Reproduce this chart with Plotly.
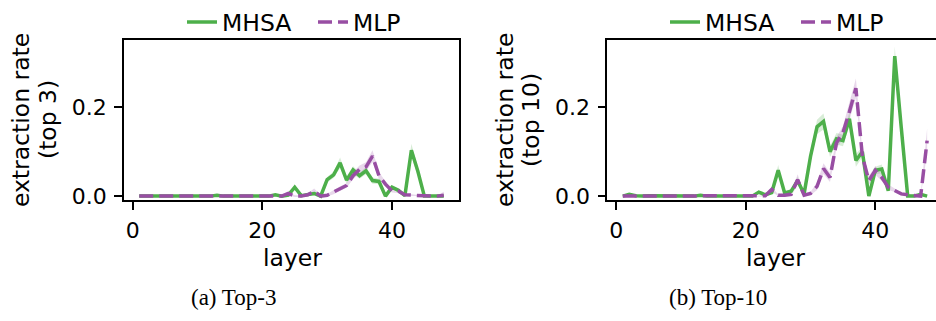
import plotly.graph_objects as go

layers = list(range(1, 49))

# (a) Top-3
mhsa_top3 = [0.0, 0.0, 0.0, 0.0, 0.0, 0.0, 0.0, 0.0, 0.0, 0.0, 0.0, 0.0,
             0.002, 0.0, 0.0, 0.0, 0.0, 0.0, 0.0, 0.0, 0.0, 0.003, 0.0, 0.002,
             0.020, 0.001, 0.003, 0.006, 0.0, 0.037, 0.048, 0.075, 0.036, 0.059,
             0.046, 0.057, 0.035, 0.033, 0.0, 0.020, 0.013, 0.001, 0.103, 0.056,
             0.0, 0.0, 0.0, 0.0]
mhsa_top3_ci = [0.001] * 24 + [0.006, 0.002, 0.003, 0.004, 0.002, 0.006, 0.007, 0.012,
                               0.008, 0.008, 0.007, 0.008, 0.007, 0.006, 0.002, 0.005,
                               0.004, 0.002, 0.015, 0.009, 0.001, 0.001, 0.001, 0.001]
mlp_top3 = [0.0] * 23 + [0.006, 0.0, 0.0, 0.003, 0.011, 0.0, 0.002, 0.009, 0.017,
                         0.024, 0.046, 0.060, 0.066, 0.090, 0.046, 0.027, 0.012,
                         0.011, 0.003, 0.002, 0.001, 0.0, 0.0, 0.0, 0.002]
mlp_top3_ci = [0.001] * 23 + [0.004, 0.002, 0.002, 0.003, 0.006, 0.002, 0.003, 0.005, 0.005,
                              0.005, 0.008, 0.009, 0.010, 0.013, 0.008, 0.006, 0.004,
                              0.004, 0.002, 0.002, 0.001, 0.001, 0.001, 0.002, 0.008]

# (b) Top-10
mhsa_top10 = [0.0, 0.004, 0.001, 0.0, 0.001, 0.001, 0.0, 0.0, 0.0, 0.0, 0.0, 0.0,
              0.002, 0.0, 0.0, 0.0, 0.0, 0.0, 0.0, 0.0, 0.0, 0.009, 0.003, 0.008,
              0.058, 0.007, 0.011, 0.035, 0.005, 0.090, 0.156, 0.168, 0.100, 0.129,
              0.125, 0.174, 0.080, 0.100, 0.0, 0.058, 0.061, 0.012, 0.315, 0.155,
              0.0, 0.0, 0.004, 0.0]
mhsa_top10_ci = [0.002] * 21 + [0.004, 0.003, 0.004, 0.012, 0.004, 0.005, 0.008,
                                0.003, 0.012, 0.016, 0.018, 0.012, 0.013, 0.013, 0.015,
                                0.014, 0.012, 0.002, 0.008, 0.010, 0.004, 0.022, 0.012,
                                0.002, 0.002, 0.003, 0.002]
mlp_top10 = [0.0] * 22 + [0.001, 0.015, 0.002, 0.002, 0.004, 0.037, 0.002, 0.006,
                          0.022, 0.062, 0.042, 0.120, 0.143, 0.190, 0.243, 0.090,
                          0.035, 0.058, 0.042, 0.020, 0.013, 0.005, 0.003, 0.002,
                          0.0, 0.125]
mlp_top10_ci = [0.001] * 22 + [0.002, 0.005, 0.002, 0.002, 0.003, 0.012, 0.003, 0.004,
                               0.008, 0.012, 0.010, 0.013, 0.014, 0.018, 0.022, 0.012,
                               0.010, 0.010, 0.008, 0.006, 0.004, 0.003, 0.002, 0.002,
                               0.002, 0.028]

x_ticks = [0, 20, 40]
y_ticks = [0.0, 0.2]
captions = ["(a) Top-3", "(b) Top-10"]
y_titles = [("extraction rate", "(top 3)"), ("extraction rate", "(top 10)")]

GREEN = "#4daf4a"
PURPLE = "#984ea3"
GREEN_BAND = "rgba(77,175,74,0.22)"
PURPLE_BAND = "rgba(152,78,163,0.22)"
FONT = "DejaVu Sans"
W, H = 936, 321
DASH = "14px,6px"

fig = go.Figure()

panels = [
    (mhsa_top3, mhsa_top3_ci, mlp_top3, mlp_top3_ci, "x", "y", "legend"),
    (mhsa_top10, mhsa_top10_ci, mlp_top10, mlp_top10_ci, "x2", "y2", "legend2"),
]

for mh, mh_ci, ml, ml_ci, xa, ya, lg in panels:
    for vals, ci, band in [(mh, mh_ci, GREEN_BAND), (ml, ml_ci, PURPLE_BAND)]:
        upper = [v + c for v, c in zip(vals, ci)]
        lower = [max(v - c, -0.004) for v, c in zip(vals, ci)]
        fig.add_trace(go.Scatter(
            x=layers + layers[::-1], y=upper + lower[::-1], fill="toself",
            fillcolor=band, line=dict(width=0), mode="lines", hoverinfo="skip",
            showlegend=False, xaxis=xa, yaxis=ya))
    for vals, col, name, dash in [(mh, GREEN, "MHSA", "solid"), (ml, PURPLE, "MLP", DASH)]:
        fig.add_trace(go.Scatter(
            x=layers, y=vals, mode="lines", name=name,
            line=dict(color=col, width=3.5, dash=dash),
            xaxis=xa, yaxis=ya, legend=lg))

ydom = [1 - 205 / H, 1 - 39 / H]
axis_common = dict(showline=True, linecolor="black", linewidth=1.6, ticks="outside",
                   ticklen=8, tickwidth=1.6, tickcolor="black", showgrid=False,
                   zeroline=False, tickfont=dict(family=FONT, size=22, color="black"))

legend_common = dict(orientation="h", xanchor="left", y=1 - 21 / H, yanchor="middle",
                     font=dict(family=FONT, size=23.5, color="black"),
                     bgcolor="rgba(0,0,0,0)", itemwidth=30, tracegroupgap=0,
                     entrywidth=86, entrywidthmode="pixels", borderwidth=0)

fig.update_layout(
    width=W, height=H, autosize=False,
    margin=dict(l=0, r=0, t=0, b=0),
    paper_bgcolor="white", plot_bgcolor="white",
    font=dict(family=FONT, color="black"),
    xaxis=dict(domain=[124 / W, 459 / W], range=[-1.35, 50.35], tickvals=x_ticks,
               mirror=True, anchor="y", ticklabelstandoff=2, **axis_common),
    yaxis=dict(domain=ydom, range=[-0.0087, 0.3522], tickvals=y_ticks, tickformat=".1f",
               mirror=True, anchor="x", ticklabelstandoff=3, **axis_common),
    xaxis2=dict(domain=[607.3 / W, 1.0], range=[-1.39, 49.37], tickvals=x_ticks,
                mirror=True, anchor="y2", ticklabelstandoff=2, **axis_common),
    yaxis2=dict(domain=ydom, range=[-0.0087, 0.3522], tickvals=y_ticks, tickformat=".1f",
                mirror=False, anchor="x2", ticklabelstandoff=3, **axis_common),
    legend=dict(x=182 / W, **legend_common),
    legend2=dict(x=665 / W, **legend_common),
)

annotations = []
for (l1, l2), (x1, x2) in zip(y_titles, [(21.3, 48.3), (505.2, 531.3)]):
    for txt, xp in [(l1, x1), (l2, x2)]:
        annotations.append(dict(text=txt, x=xp / W, y=1 - 122 / H, xref="paper", yref="paper",
                                xanchor="center", yanchor="middle", textangle=-90,
                                showarrow=False, font=dict(family=FONT, size=23.5, color="black")))
for xp in [292, 775.5]:
    annotations.append(dict(text="layer", x=xp / W, y=1 - 265 / H, xref="paper", yref="paper",
                            xanchor="center", yanchor="middle", showarrow=False,
                            font=dict(family=FONT, size=23.5, color="black")))
for cap, xp in zip(captions, [233, 717.5]):
    annotations.append(dict(text=cap, x=xp / W, y=1 - 306 / H, xref="paper", yref="paper",
                            xanchor="center", yanchor="middle", showarrow=False,
                            font=dict(family="Liberation Serif", size=23, color="black")))
fig.update_layout(annotations=annotations)

fig.write_html("out.html", config={"responsive": False, "displayModeBar": False},
               post_script="document.body.style.margin='0';document.body.style.overflow='hidden';")
